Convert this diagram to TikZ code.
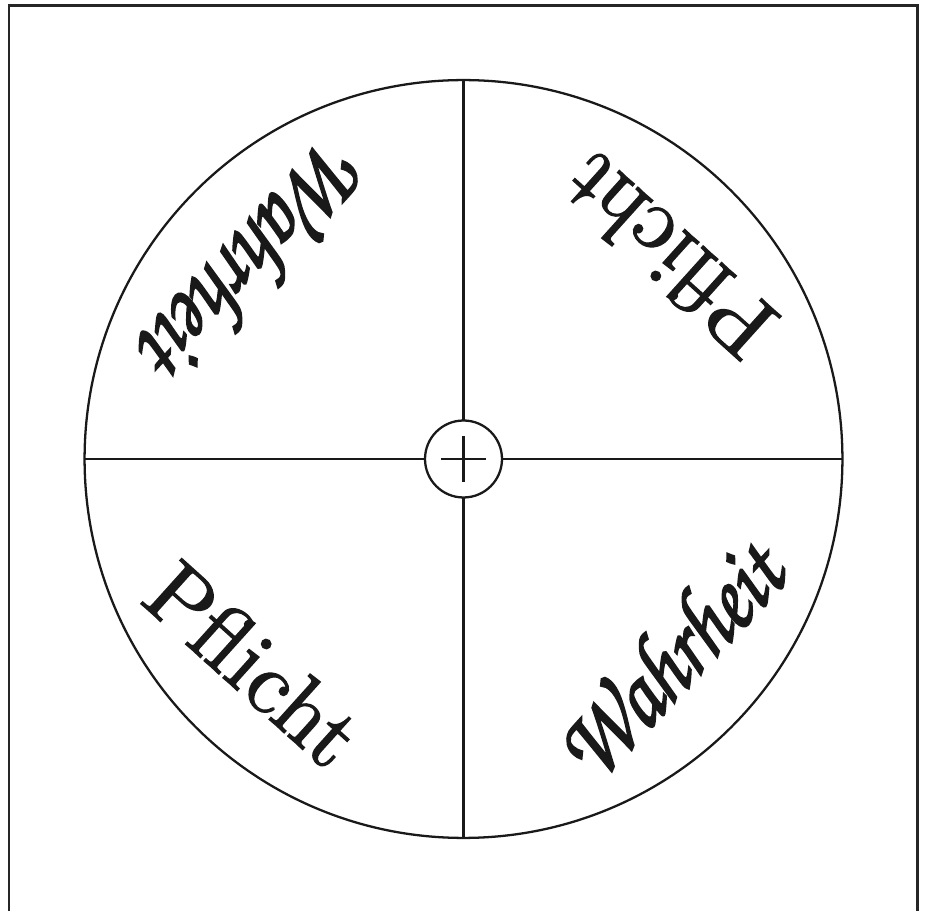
\documentclass[tikz,border=0pt]{standalone}
\usepackage{graphicx}
\newcommand\scriptfnt{\usefont{OT1}{pzc}{mb}{it}}
\newcommand\heavy[2]{\special{pdf:literal direct 2 Tr #1 w}#2\special{pdf:literal direct 0 Tr}}
\begin{document}
\begin{tikzpicture}[x=0.02cm,y=-0.02cm,
  ring/.style={line width=1.3pt, draw=black!90},
  frame/.style={line width=1.7pt, draw=black!85},
  label/.style={inner sep=0pt, text=black!90}]
\useasboundingbox (0,0) rectangle (926,911);
\draw[frame] (9,5.5) rectangle (917,940);
\coordinate (c) at (463.5,459);
\coordinate (top) at (463.5,80);
\coordinate (bot) at (463.5,838);
\coordinate (lft) at (85,459);
\coordinate (rgt) at (842,459);
\draw[ring] (c) circle[radius=7.58cm];
\draw[ring] (top) -- (bot);
\draw[ring] (lft) -- (rgt);
\draw[ring, fill=white] (c) circle[radius=0.77cm];
\draw[ring] ([xshift=-0.45cm]c) -- ([xshift=0.45cm]c);
\draw[ring] ([yshift=-0.46cm]c) -- ([yshift=0.46cm]c);
\node[label, rotate=47] (w1) at (666,658) {\resizebox{5.7cm}{!}{\scalebox{1}[1.2]{\heavy{0.2}{\scriptfnt Wahrheit}}}};
\node[label, rotate=227] (w2) at (258,262) {\resizebox{5.7cm}{!}{\scalebox{1}[1.2]{\heavy{0.2}{\scriptfnt Wahrheit}}}};
\node[label, rotate=-42] (p1) at (254,664) {\resizebox{5.1cm}{!}{\heavy{0.14}{Pflicht}}};
\node[label, rotate=138] (p2) at (668,256) {\resizebox{5.1cm}{!}{\heavy{0.14}{Pflicht}}};
\end{tikzpicture}
\end{document}
